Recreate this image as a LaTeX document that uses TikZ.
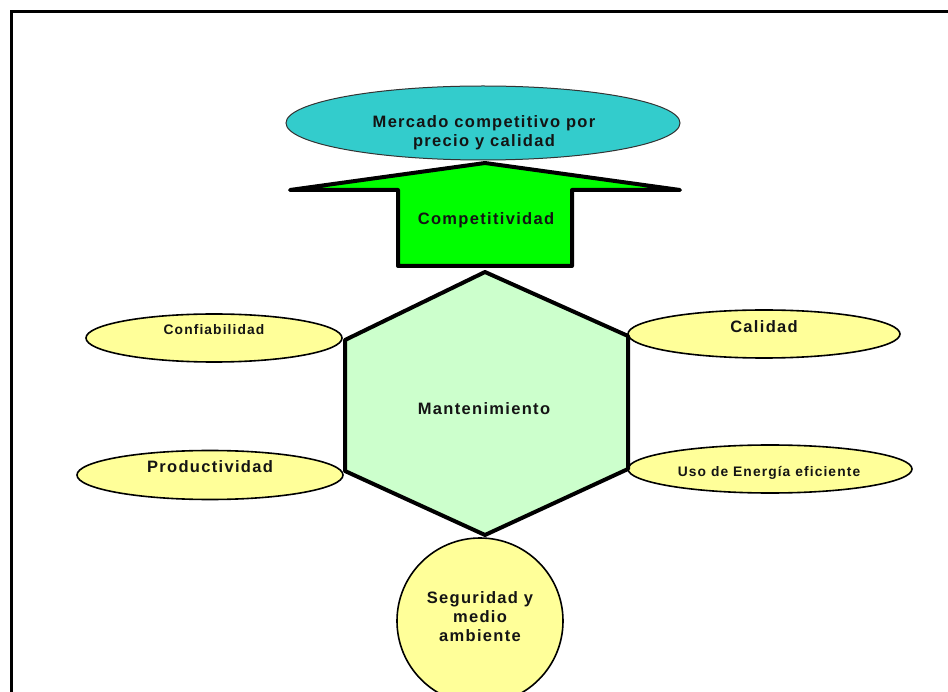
\documentclass[tikz,border=0pt]{standalone}
\usepackage{fontspec}
\setmainfont{Liberation Sans}[LetterSpace=8]
\usetikzlibrary{shapes.geometric}
\definecolor{cyanfill}{HTML}{33CCCC}
\definecolor{arrowgreen}{HTML}{00FF00}
\definecolor{hexfill}{HTML}{CCFFCC}
\definecolor{yellowfill}{HTML}{FFFF99}
\definecolor{txtdark}{HTML}{141414}
\tikzset{
  frameline/.style={line width=3pt, black},
  ybubble/.style={ellipse, draw=black, line width=1.6pt, fill=yellowfill, inner sep=0pt},
  cbubble/.style={ellipse, draw=black!80, line width=1pt, fill=cyanfill, inner sep=0pt},
  bigtxt/.style={font=\bfseries\fontsize{16.5}{19}\selectfont, text=txtdark, align=center, inner sep=0pt},
  smalltxt/.style={font=\bfseries\fontsize{13.8}{16}\selectfont, text=txtdark, align=center, inner sep=0pt},
  shapeline/.style={draw=black, line width=4pt, line join=round}
}
\begin{document}
\begin{tikzpicture}[x=1pt,y=-1pt]
\useasboundingbox (0,0) rectangle (948,692);
% frame
\draw[frameline] (11.5,692) -- (11.5,11.5) -- (948,11.5);

% top ellipse
\node[cbubble, minimum width=394pt, minimum height=74pt] (mercado) at (483,123) {};
\node[bigtxt] (mercadotxt) at (484,133) {Mercado competitivo por\\precio y calidad};

% arrow
\coordinate (tip) at (485,163);
\filldraw[shapeline, fill=arrowgreen] (tip) -- (680,190) -- (572,190) -- (572,266) -- (398,266) -- (398,190) -- (290,190) -- cycle;
\node[bigtxt] (comp) at (486,220) {Competitividad};

% side ellipses
\node[ybubble, minimum width=256pt, minimum height=48pt] (conf) at (214,338) {};
\node[smalltxt] (conftxt) at (214,330) {Confiabilidad};
\node[ybubble, minimum width=266pt, minimum height=49pt] (prod) at (210,475) {};
\node[bigtxt] (prodtxt) at (210,467) {Productividad};
\node[ybubble, minimum width=272pt, minimum height=48pt] (cal) at (764,334) {};
\node[bigtxt] (caltxt) at (764,327) {Calidad};
\node[ybubble, minimum width=284pt, minimum height=48pt] (uso) at (770,469) {};
\node[smalltxt] (usotxt) at (769,473) {Uso de Energía eficiente};

% bottom circle
\node[circle, draw=black, line width=1.6pt, fill=yellowfill, minimum size=166pt, inner sep=0pt] (seg) at (480,621) {};
\node[bigtxt] (segtxt) at (480,617) {Seguridad y\\medio\\ambiente};

% hexagon
\filldraw[shapeline, fill=hexfill] (485,272) -- (628,336) -- (628,469) -- (485,535) -- (345,471) -- (345,340) -- cycle;
\node[bigtxt] (mant) at (484,409) {Mantenimiento};
\end{tikzpicture}
\end{document}
